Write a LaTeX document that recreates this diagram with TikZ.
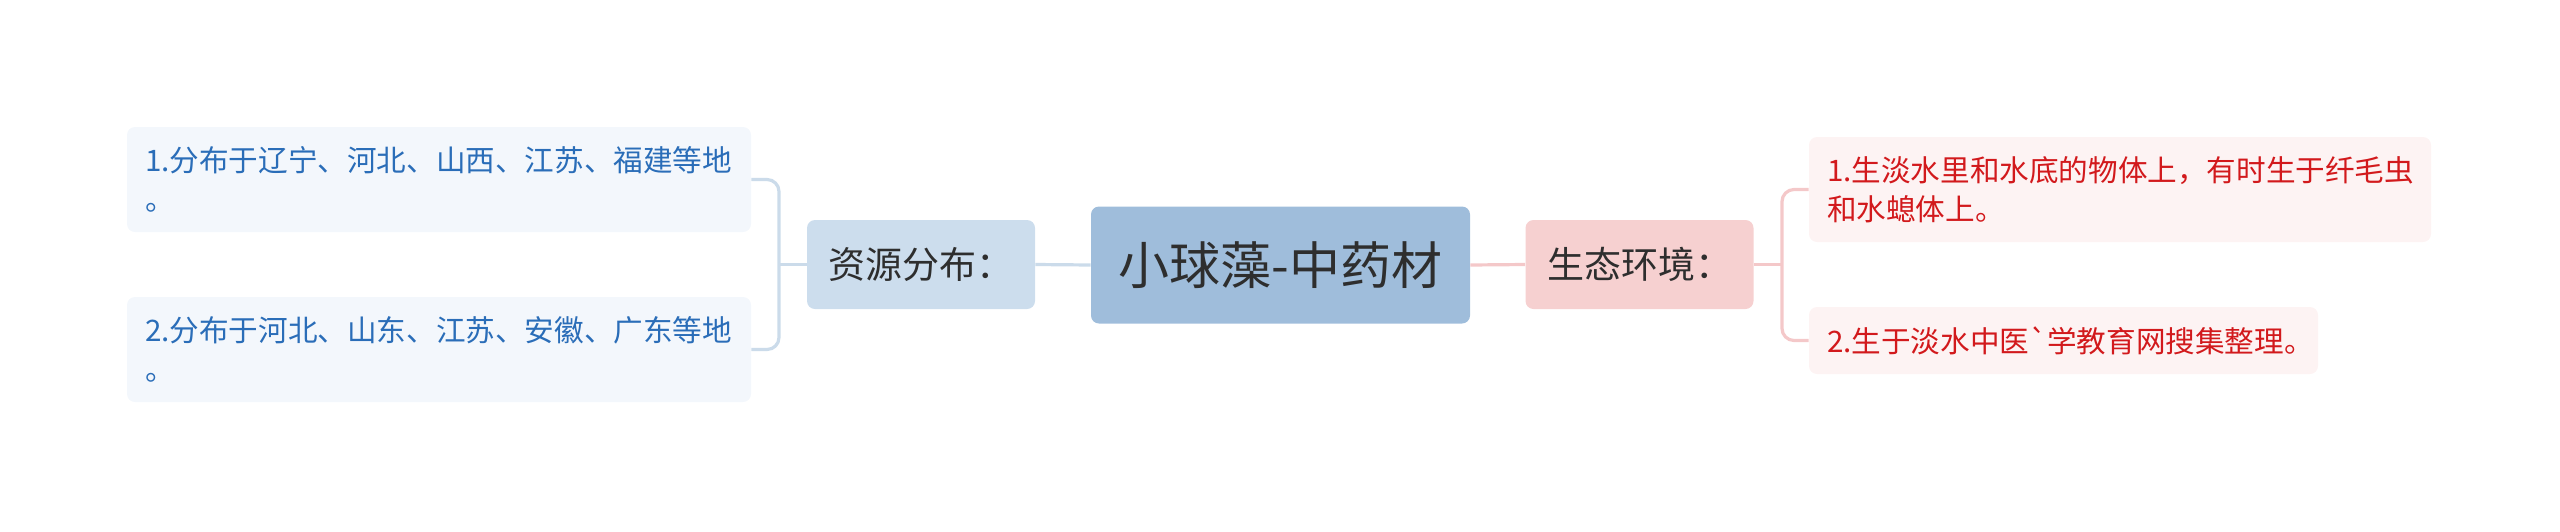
\documentclass[tikz,border=0pt]{standalone}
\usepackage{fontspec}
\newfontfamily\cjk{Noto Sans CJK SC}
\definecolor{rootfill}{HTML}{9FBDDB}
\definecolor{resfill}{HTML}{CCDDED}
\definecolor{resleaf}{HTML}{F3F7FC}
\definecolor{restext}{HTML}{2A6DB8}
\definecolor{resline}{HTML}{CBDBEA}
\definecolor{ecofill}{HTML}{F6D0D0}
\definecolor{ecoleaf}{HTML}{FDF3F3}
\definecolor{ecotext}{HTML}{D2191C}
\definecolor{ecoline}{HTML}{F4C8C9}
\definecolor{ink}{HTML}{2E2E2E}

\begin{document}
\begin{tikzpicture}[x=0.5pt,y=-0.5pt,
  every node/.style={font=\cjk,inner sep=0pt,rounded corners=4pt},
  topicbox/.style={fill=rootfill,text=ink,font=\cjk\fontsize{25.5}{30}\selectfont,minimum width=189.5pt,minimum height=58.5pt},
  branchbox/.style={text=ink,font=\cjk\fontsize{18.5}{22}\selectfont,minimum width=114pt,minimum height=44.5pt},
  leafbox/.style={align=left,inner xsep=9pt,font=\cjk\fontsize{14.8}{19.5}\selectfont},
  resleafbox/.style={leafbox,fill=resleaf,text=restext},
  ecoleafbox/.style={leafbox,fill=ecoleaf,text=ecotext},
  link/.style={line width=1.6pt,rounded corners=6pt}]
\useasboundingbox (0,0) rectangle (2560,531);
\node[topicbox] (root) at (1280.5,265) {小球藻-中药材};
\node[branchbox,fill=resfill] (res) at (921,264.5) {资源分布：};
\node[branchbox,fill=ecofill] (eco) at (1639.5,264.5) {生态环境：};
\node[resleafbox,text width=294pt,minimum height=52.5pt] (res1) at (439,179.5) {1.分布于辽宁、河北、山西、江苏、福建等地\\。};
\node[resleafbox,text width=294pt,minimum height=52.5pt] (res2) at (439,349.5) {2.分布于河北、山东、江苏、安徽、广东等地\\。};
\node[ecoleafbox,text width=293pt,minimum height=52.5pt] (eco1) at (2120,189.5) {1.生淡水里和水底的物体上，有时生于纤毛虫\\和水螅体上。};
\node[ecoleafbox,text width=236.5pt,minimum height=33.5pt] (eco2) at (2063.5,340.5) {2.生于淡水中医\textasciigrave 学教育网搜集整理。};
\coordinate (resfork) at (779,264.5);
\coordinate (ecofork) at (1782,264.5);
\draw[link,resline] (root.west) -- (res.east);
\draw[link,resline] (res.west) -- (resfork);
\draw[link,resline] (res1.east) -| (resfork) |- (res2.east);
\draw[link,ecoline] (root.east) -- (eco.west);
\draw[link,ecoline] (eco.east) -- (ecofork);
\draw[link,ecoline] (eco1.west) -| (ecofork) |- (eco2.west);
\end{tikzpicture}
\end{document}
